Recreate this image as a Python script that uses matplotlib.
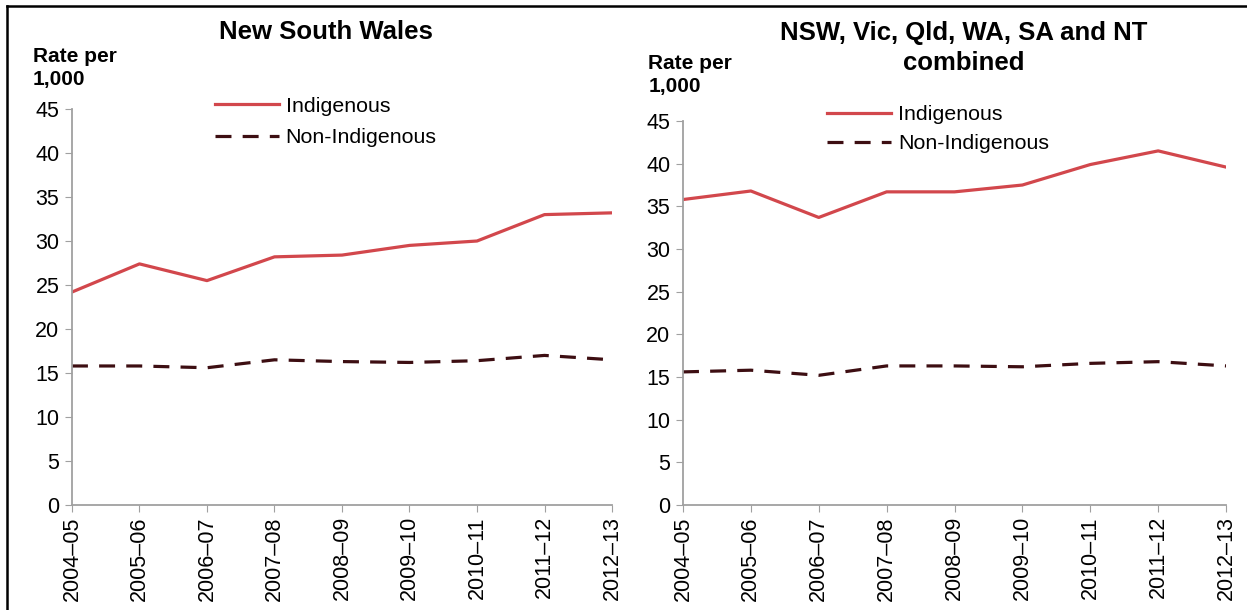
import matplotlib.pyplot as plt
from matplotlib.lines import Line2D

plt.rcParams.update({
    "font.family": ["Liberation Sans", "DejaVu Sans"],
})

years = ["2004–05", "2005–06", "2006–07", "2007–08", "2008–09",
         "2009–10", "2010–11", "2011–12", "2012–13"]

nsw_indig = [24.2, 27.4, 25.5, 28.2, 28.4, 29.5, 30.0, 33.0, 33.2]
nsw_non = [15.8, 15.8, 15.6, 16.5, 16.3, 16.2, 16.4, 17.0, 16.5]

comb_indig = [35.8, 36.8, 33.7, 36.7, 36.7, 37.5, 39.9, 41.5, 39.6]
comb_non = [15.6, 15.8, 15.2, 16.3, 16.3, 16.2, 16.6, 16.8, 16.3]

titles = ["New South Wales", "NSW, Vic, Qld, WA, SA and NT\ncombined"]
series_labels = ["Indigenous", "Non-Indigenous"]

RED = "#d2474c"
DARK = "#3d0e12"
GREY = "#a0a0a0"


def draw_panel(ax, indig, non, title, title_xy, legend_anchor, spacing, ylab_xy):
    x = list(range(len(years)))
    ax.plot(x, indig, color=RED, lw=2.3, label=series_labels[0])
    ax.plot(x, non, color=DARK, lw=2.3, ls=(0, (5, 3.5)), label=series_labels[1])

    ax.set_xlim(0, len(years) - 1)
    ax.set_ylim(0, 45)
    ax.set_yticks(range(0, 46, 5))
    ax.set_xticks(x)
    ax.set_xticklabels(years, rotation=90, fontsize=15.5)
    ax.tick_params(axis="y", labelsize=15.5, length=5, color=GREY, pad=4)
    ax.tick_params(axis="x", length=5, color=GREY, pad=3)

    for side in ["top", "right"]:
        ax.spines[side].set_visible(False)
    for side in ["left", "bottom"]:
        ax.spines[side].set_color(GREY)
        ax.spines[side].set_linewidth(1.3)

    ax.text(title_xy[0], title_xy[1], title, transform=ax.transAxes,
            fontsize=18.5, fontweight="bold", ha="center", va="center",
            linespacing=1.32)
    ax.text(ylab_xy[0], ylab_xy[1], "Rate per\n1,000", transform=ax.transAxes,
            fontsize=15, fontweight="bold", va="bottom", ha="left", linespacing=1.3)

    ax.legend(loc="upper left", bbox_to_anchor=legend_anchor, frameon=False,
              fontsize=15.4, handlelength=3.0, handletextpad=0.3,
              labelspacing=spacing, borderaxespad=0)


fig = plt.figure(figsize=(12.47, 6.10), dpi=100)

ax1 = fig.add_axes([0.0577, 0.1721, 0.4331, 0.6492])
ax2 = fig.add_axes([0.5477, 0.1721, 0.4355, 0.6295])

draw_panel(ax1, nsw_indig, nsw_non, titles[0], (0.47, 1.194),
           (0.249, 1.053), 0.6, (-0.072, 1.05))
draw_panel(ax2, comb_indig, comb_non, titles[1], (0.517, 1.19),
           (0.25, 1.063), 0.45, (-0.064, 1.065))

# outer frame (top and left edges only)
fig.add_artist(Line2D([0.0056, 1.0], [0.990, 0.990], color="black", lw=1.8,
                      transform=fig.transFigure))
fig.add_artist(Line2D([0.0056, 0.0056], [0.0, 0.990], color="black", lw=1.8,
                      transform=fig.transFigure))

fig.savefig("out.png", dpi=100)
